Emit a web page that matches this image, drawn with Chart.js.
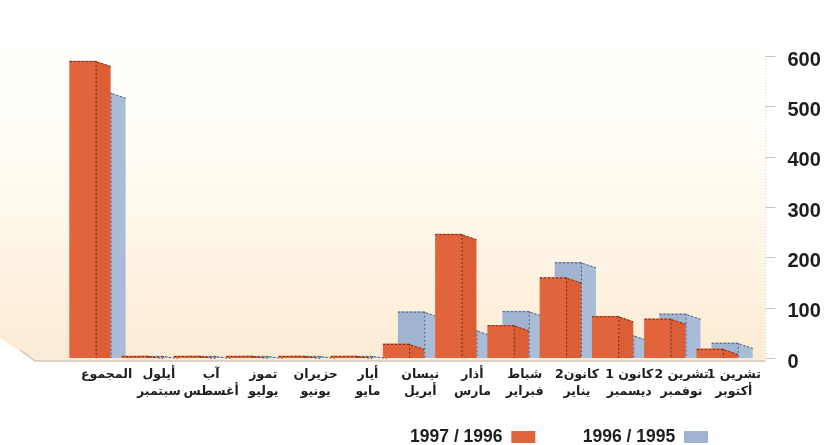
<!DOCTYPE html>
<html><head><meta charset="utf-8">
<style>html,body{margin:0;padding:0;background:#fff}#wrap{width:828px;height:445px;position:relative}</style>
<script src="https://cdn.jsdelivr.net/npm/chart.js@4/dist/chart.umd.min.js"></script>
</head><body><div id="wrap"><canvas id="c" width="828" height="445"></canvas></div>
<script>
const categories = [["المجموع"],["أيلول","سبتمبر"],["آب","أغسطس"],["تموز","يوليو"],["حزيران","يونيو"],["أيار","مايو"],["نيسان","أبريل"],["أذار","مارس"],["شباط","فبراير"],["كانون2","يناير"],["كانون 1","ديسمبر"],["تشرين 2","نوفمبر"],["تشرين 1","أكتوبر"]];
const seriesNames = ["1996 / 1995", "1997 / 1996"];
const series9596 = [527, 4, 4, 4, 4, 4, 92, 55, 93, 190, 45, 88, 30];
const series9697 = [590, 4, 4, 4, 4, 4, 28, 246, 65, 160, 83, 78, 18];
const yTicks = [0, 100, 200, 300, 400, 500, 600];

const ORANGE = '#e1643c', ORANGE_SIDE = '#db5e36', ORANGE_EDGE = '#6b2a16';
const BLUE = '#a0b4d2', BLUE_SIDE = '#aabdd8', BLUE_EDGE = '#4c5a70';
const DX = 15, DY = 5;

const bar3d = {
  id: 'bar3d',
  afterLayout(chart) {
    const lg = chart.legend;
    if (lg) {
      const dx = 708 - (chart.chartArea.right - 47.5);
      lg.left += dx; lg.right += dx;
      lg.top -= 19.25; lg.bottom -= 19.25;
    }
  },
  beforeDraw(chart) {
    const {ctx, chartArea: a} = chart;
    ctx.save();
    const g = ctx.createLinearGradient(0, 8, 0, a.bottom + 4);
    g.addColorStop(0, '#ffffff');
    g.addColorStop(0.4, '#fffdf5');
    g.addColorStop(1, '#fcebd3');
    ctx.fillStyle = g;
    ctx.beginPath();
    ctx.moveTo(0, 8);
    ctx.lineTo(a.right + 22, 8);
    ctx.lineTo(a.right + 22, a.bottom + 3);
    ctx.lineTo(35, a.bottom + 3);
    ctx.lineTo(0, a.bottom - 20);
    ctx.closePath();
    ctx.fill();
    ctx.strokeStyle = '#cfc6c0';
    ctx.lineWidth = 1.5;
    ctx.beginPath();
    ctx.moveTo(20, a.bottom - 8);
    ctx.lineTo(35, a.bottom + 3);
    ctx.lineTo(a.right + 22, a.bottom + 3);
    ctx.stroke();
    const ys = chart.scales.y;
    ctx.strokeStyle = '#d6d2cf';
    ctx.lineWidth = 1;
    ctx.setLineDash([1, 2]);
    ctx.beginPath();
    ctx.moveTo(a.right + 22.5, ys.getPixelForValue(600));
    ctx.lineTo(a.right + 22.5, ys.getPixelForValue(0));
    ctx.stroke();
    ctx.setLineDash([]);
    ctx.strokeStyle = '#c8c4c0';
    yTicks.forEach(v => {
      const y = Math.round(ys.getPixelForValue(v)) + 0.5;
      ctx.beginPath();
      ctx.moveTo(a.right + 22, y);
      ctx.lineTo(a.right + 32, y);
      ctx.stroke();
    });
    ctx.restore();
  },
  beforeDatasetDraw(chart, args) {
    const ctx = chart.ctx;
    ctx.save();
    ctx.translate(args.index === 0 ? 7.5 : -7.5, 0);
  },
  afterDatasetDraw(chart, args) {
    const ctx = chart.ctx;
    const isBlue = args.index === 0;
    args.meta.data.forEach(el => {
      const p = el.getProps(['x', 'y', 'base', 'width'], true);
      const xl = p.x - p.width / 2, xr = p.x + p.width / 2;
      const top = Math.min(p.y, p.base), base = Math.max(p.y, p.base);
      const stop = Math.min(top + DY, base);
      ctx.fillStyle = isBlue ? BLUE_SIDE : ORANGE_SIDE;
      ctx.beginPath();
      ctx.moveTo(xr, top);
      ctx.lineTo(xr + DX, stop);
      ctx.lineTo(xr + DX, base);
      ctx.lineTo(xr, base);
      ctx.closePath();
      ctx.fill();
      ctx.strokeStyle = isBlue ? BLUE_EDGE : ORANGE_EDGE;
      ctx.lineWidth = 1;
      ctx.setLineDash([2, 2]);
      ctx.beginPath();
      ctx.moveTo(xl, top + 0.5);
      ctx.lineTo(xr, top + 0.5);
      ctx.lineTo(xr + DX, stop + 0.5);
      ctx.moveTo(xr + 0.5, top);
      ctx.lineTo(xr + 0.5, base);
      ctx.stroke();
      ctx.setLineDash([]);
    });
    ctx.restore();
  }
};

new Chart(document.getElementById('c'), {
  type: 'bar',
  data: {
    labels: categories,
    datasets: [
      {label: seriesNames[0], data: series9596, backgroundColor: BLUE, order: 1, grouped: false, barThickness: 26},
      {label: seriesNames[1], data: series9697, backgroundColor: ORANGE, order: 0, grouped: false, barThickness: 26}
    ]
  },
  options: {
    responsive: false,
    animation: false,
    layout: {padding: {left: 64, right: 7.6, top: 24, bottom: -30}},
    scales: {
      x: {
        grid: {display: false, drawTicks: false},
        border: {display: false},
        afterFit(s) { s.height = 42; s.paddingLeft = 0; s.paddingRight = 0; },
        ticks: {
          autoSkip: false, maxRotation: 0, minRotation: 0,
          labelOffset: 16.5, padding: 8,
          color: '#1e1e1e',
          font: {family: '"DejaVu Sans", "Liberation Sans", sans-serif', size: 12.5, weight: 'bold', lineHeight: 1.35}
        }
      },
      y: {
        position: 'right',
        min: 0, max: 600,
        grid: {display: false, drawTicks: false},
        border: {display: false},
        afterFit(s) { s.width = 77; },
        ticks: {
          stepSize: 100,
          padding: 44,
          labelOffset: 4,
          color: '#1e1e1e',
          font: {family: '"Liberation Sans", Arial, sans-serif', size: 20, weight: 'bold'}
        }
      }
    },
    plugins: {
      tooltip: {enabled: false},
      legend: {
        position: 'bottom',
        fullSize: false,
        align: 'start',
        rtl: true,
        labels: {
          boxWidth: 24, boxHeight: 12, padding: 47.5,
          sort: (a, b) => a.datasetIndex - b.datasetIndex,
          color: '#1e1e1e',
          font: {family: '"Liberation Sans", Arial, sans-serif', size: 17.5, weight: 'bold'}
        }
      }
    }
  },
  plugins: [bar3d]
});
</script>
</body></html>
